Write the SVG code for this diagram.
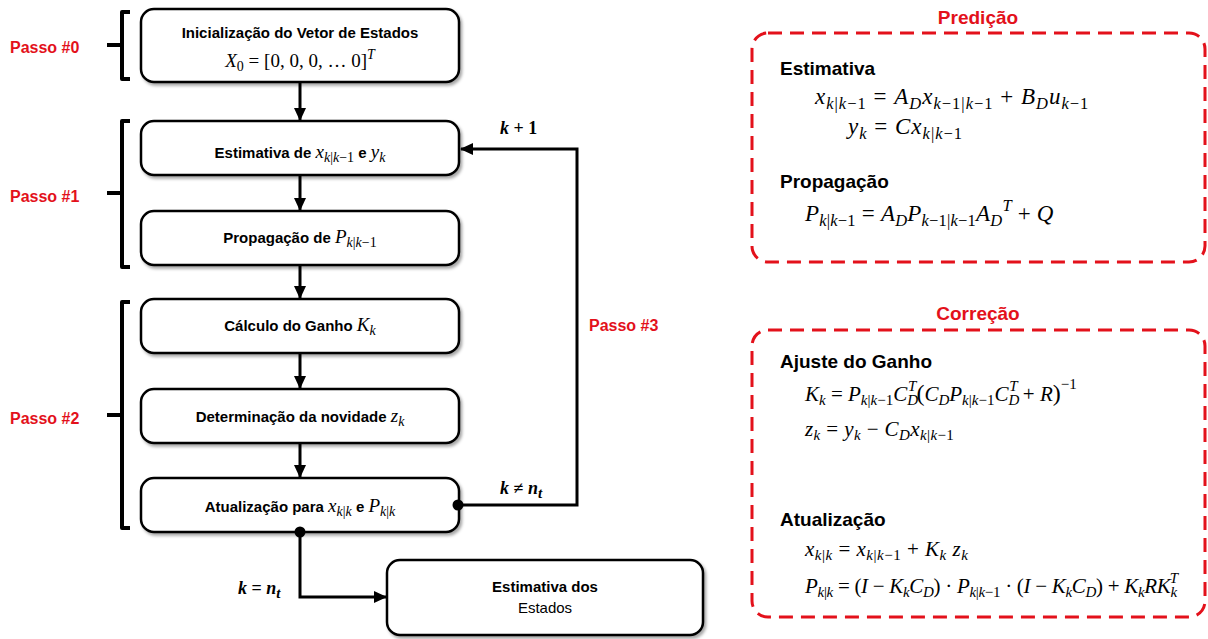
<svg xmlns="http://www.w3.org/2000/svg" width="1208" height="639" viewBox="0 0 1208 639">
  <style>
    .box { fill: #ffffff; stroke: #000000; stroke-width: 2.5; }
    .lbl { font-family: "Liberation Sans", Arial, sans-serif; font-weight: bold; font-size: 15px; fill: #000; }
    .reg { font-weight: normal; }
    .m { font-family: "Liberation Serif", "Times New Roman", serif; font-weight: normal; font-size: 19px; fill: #000; }
    .ms { font-size: 14px; }
    .em { font-family: "Liberation Serif", "Times New Roman", serif; font-size: 21px; fill: #000; }
    .es { font-size: 15px; }
    .pm { font-size: 23px; letter-spacing: 1px; }
    .pm.tight { letter-spacing: 0.2px; }
    .ps { font-size: 16.5px; }
    .i { font-style: italic; }
    .step { font-family: "Liberation Sans", Arial, sans-serif; font-weight: bold; font-size: 16px; fill: #e3111b; }
    .ttl { font-family: "Liberation Sans", Arial, sans-serif; font-weight: bold; font-size: 19px; fill: #e3111b; }
    .hd { font-family: "Liberation Sans", Arial, sans-serif; font-weight: bold; font-size: 19px; fill: #000; }
    .cond { font-family: "Liberation Serif", "Times New Roman", serif; font-weight: bold; font-size: 18px; fill: #000; }
    .wire { fill: none; stroke: #000; stroke-width: 3; }
    .brace { fill: none; stroke: #000; stroke-width: 4; stroke-linejoin: round; }
    .panel { fill: none; stroke: #e3111b; stroke-width: 3; stroke-dasharray: 14 8; }
  </style>
  <defs>
    <marker id="arrow" markerUnits="userSpaceOnUse" markerWidth="14" markerHeight="14" refX="12" refY="7" orient="auto">
      <path d="M0,1 L13,7 L0,13 Z" fill="#000"/>
    </marker>
    <filter id="shadow" x="-5%" y="-10%" width="115%" height="130%">
      <feDropShadow dx="2" dy="2.5" stdDeviation="1.5" flood-color="#000" flood-opacity="0.35"/>
    </filter>
  </defs>

  <!-- step labels and braces -->
  <g id="steps">
    <text class="step" x="10" y="53">Passo #0</text>
    <text class="step" x="10" y="202">Passo #1</text>
    <text class="step" x="10" y="424">Passo #2</text>
    <text class="step" x="589" y="331">Passo #3</text>
    <path class="brace" d="M130,12 H122 V45 H107 M122,45 V79 H130"/>
    <path class="brace" d="M130,121 H122 V193 H107 M122,193 V267 H130"/>
    <path class="brace" d="M130,302 H122 V415 H107 M122,415 V528 H130"/>
  </g>

  <!-- flow nodes -->
  <g id="node-init">
    <rect class="box" x="141" y="9" width="318" height="73" rx="13" filter="url(#shadow)"/>
    <text class="lbl" x="300" y="38" text-anchor="middle">Inicialização do Vetor de Estados</text>
    <text class="m" x="300" y="67" text-anchor="middle"><tspan class="i">X</tspan><tspan class="ms" dy="4">0</tspan><tspan dy="-4"> = [0, 0, 0, … 0]</tspan><tspan class="ms i" dy="-8">T</tspan></text>
  </g>
  <g id="node-estimate">
    <rect class="box" x="141" y="121" width="318" height="54" rx="13" filter="url(#shadow)"/>
    <text class="lbl" x="300" y="158" text-anchor="middle">Estimativa de <tspan class="m i">x</tspan><tspan class="m ms" dy="4"><tspan class="i">k</tspan>|<tspan class="i">k</tspan>−1</tspan><tspan dy="-4"> e </tspan><tspan class="m i">y</tspan><tspan class="m ms i" dy="4">k</tspan></text>
  </g>
  <g id="node-propagate">
    <rect class="box" x="141" y="211" width="318" height="54" rx="13" filter="url(#shadow)"/>
    <text class="lbl" x="300" y="243" text-anchor="middle">Propagação de <tspan class="m i">P</tspan><tspan class="m ms" dy="4"><tspan class="i">k</tspan>|<tspan class="i">k</tspan>−1</tspan></text>
  </g>
  <g id="node-gain">
    <rect class="box" x="141" y="299" width="318" height="54" rx="13" filter="url(#shadow)"/>
    <text class="lbl" x="300" y="331" text-anchor="middle">Cálculo do Ganho <tspan class="m i">K</tspan><tspan class="m ms i" dy="4">k</tspan></text>
  </g>
  <g id="node-innovation">
    <rect class="box" x="141" y="389" width="318" height="54" rx="13" filter="url(#shadow)"/>
    <text class="lbl" x="300" y="422" text-anchor="middle">Determinação da novidade <tspan class="m i">z</tspan><tspan class="m ms i" dy="4">k</tspan></text>
  </g>
  <g id="node-update">
    <rect class="box" x="141" y="478" width="318" height="54" rx="13" filter="url(#shadow)"/>
    <text class="lbl" x="300" y="512" text-anchor="middle">Atualização para <tspan class="m i">x</tspan><tspan class="m ms" dy="4"><tspan class="i">k</tspan>|<tspan class="i">k</tspan></tspan><tspan dy="-4"> e  </tspan><tspan class="m i">P</tspan><tspan class="m ms" dy="4"><tspan class="i">k</tspan>|<tspan class="i">k</tspan></tspan></text>
  </g>
  <g id="node-output">
    <rect class="box" x="387" y="560" width="316" height="75" rx="13" filter="url(#shadow)"/>
    <text class="lbl" x="545" y="592" text-anchor="middle">Estimativa dos</text>
    <text class="lbl reg" x="545" y="613" text-anchor="middle">Estados</text>
  </g>

  <!-- connectors -->
  <g id="connectors">
    <line class="wire" x1="300" y1="82" x2="300" y2="120" marker-end="url(#arrow)"/>
    <line class="wire" x1="300" y1="175" x2="300" y2="210" marker-end="url(#arrow)"/>
    <line class="wire" x1="300" y1="265" x2="300" y2="298" marker-end="url(#arrow)"/>
    <line class="wire" x1="300" y1="353" x2="300" y2="388" marker-end="url(#arrow)"/>
    <line class="wire" x1="300" y1="443" x2="300" y2="477" marker-end="url(#arrow)"/>
    <path class="wire" d="M458,505 H577 V149 H461" marker-end="url(#arrow)"/>
    <path class="wire" d="M300,532 V597 H386" marker-end="url(#arrow)"/>
    <circle cx="458" cy="505" r="5.5" fill="#000"/>
    <circle cx="300" cy="532" r="5.5" fill="#000"/>
    <text class="cond" x="500" y="134"><tspan class="i">k</tspan> + 1</text>
    <text class="cond" x="500" y="494"><tspan class="i">k</tspan> ≠ <tspan class="i">n</tspan><tspan class="es i" dy="4">t</tspan></text>
    <text class="cond" x="238" y="594"><tspan class="i">k</tspan> = <tspan class="i">n</tspan><tspan class="es i" dy="4">t</tspan></text>
  </g>

  <!-- prediction panel -->
  <g id="panel-prediction">
    <text class="ttl" x="978" y="24" text-anchor="middle">Predição</text>
    <rect class="panel" x="752" y="33" width="453" height="229" rx="16"/>
    <text class="hd" x="780" y="75">Estimativa</text>
    <text class="em pm" x="815" y="104"><tspan class="i">x</tspan><tspan class="ps" dy="5"><tspan class="i">k</tspan>|<tspan class="i">k</tspan>−1</tspan><tspan dy="-5"> = </tspan><tspan class="i">A</tspan><tspan class="ps i" dy="5">D</tspan><tspan class="i" dy="-5">x</tspan><tspan class="ps" dy="5"><tspan class="i">k</tspan>−1|<tspan class="i">k</tspan>−1</tspan><tspan dy="-5"> + </tspan><tspan class="i">B</tspan><tspan class="ps i" dy="5">D</tspan><tspan class="i" dy="-5">u</tspan><tspan class="ps" dy="5"><tspan class="i">k</tspan>−1</tspan></text>
    <text class="em pm" x="848" y="134"><tspan class="i">y</tspan><tspan class="ps i" dy="5">k</tspan><tspan dy="-5"> = </tspan><tspan class="i">Cx</tspan><tspan class="ps" dy="5"><tspan class="i">k</tspan>|<tspan class="i">k</tspan>−1</tspan></text>
    <text class="hd" x="780" y="188">Propagação</text>
    <text class="em pm tight" x="805" y="221"><tspan class="i">P</tspan><tspan class="ps" dy="5"><tspan class="i">k</tspan>|<tspan class="i">k</tspan>−1</tspan><tspan dy="-5"> = </tspan><tspan class="i">A</tspan><tspan class="ps i" dy="5">D</tspan><tspan class="i" dy="-5">P</tspan><tspan class="ps" dy="5"><tspan class="i">k</tspan>−1|<tspan class="i">k</tspan>−1</tspan><tspan class="i" dy="-5">A</tspan><tspan class="ps i" dy="5">D</tspan><tspan class="ps i" dy="-15">T</tspan><tspan dy="10"> + </tspan><tspan class="i">Q</tspan></text>
  </g>

  <!-- correction panel -->
  <g id="panel-correction">
    <text class="ttl" x="978" y="320" text-anchor="middle">Correção</text>
    <rect class="panel" x="752" y="330" width="453" height="287" rx="16"/>
    <text class="hd" x="780" y="368">Ajuste do Ganho</text>
    <text class="em" x="805" y="401"><tspan class="i">K</tspan><tspan class="es i" dy="4">k</tspan><tspan dy="-4"> = </tspan><tspan class="i">P</tspan><tspan class="es" dy="4"><tspan class="i">k</tspan>|<tspan class="i">k</tspan>−1</tspan><tspan class="i" dy="-4">C</tspan><tspan class="es i" dy="4">D</tspan><tspan class="es i" dx="-10" dy="-14">T</tspan><tspan dy="10" font-size="24">(</tspan><tspan class="i">C</tspan><tspan class="es i" dy="4">D</tspan><tspan class="i" dy="-4">P</tspan><tspan class="es" dy="4"><tspan class="i">k</tspan>|<tspan class="i">k</tspan>−1</tspan><tspan class="i" dy="-4">C</tspan><tspan class="es i" dy="4">D</tspan><tspan class="es i" dx="-10" dy="-14">T</tspan><tspan dy="10"> + </tspan><tspan class="i">R</tspan><tspan font-size="24">)</tspan><tspan class="es" dy="-12">−1</tspan></text>
    <text class="em" x="805" y="436" letter-spacing="0.4"><tspan class="i">z</tspan><tspan class="es i" dy="4">k</tspan><tspan dy="-4"> = </tspan><tspan class="i">y</tspan><tspan class="es i" dy="4">k</tspan><tspan dy="-4"> − </tspan><tspan class="i">C</tspan><tspan class="es i" dy="4">D</tspan><tspan class="i" dy="-4">x</tspan><tspan class="es" dy="4"><tspan class="i">k</tspan>|<tspan class="i">k</tspan>−1</tspan></text>
    <text class="hd" x="780" y="526">Atualização</text>
    <text class="em" x="805" y="556" letter-spacing="0.5"><tspan class="i">x</tspan><tspan class="es" dy="4"><tspan class="i">k</tspan>|<tspan class="i">k</tspan></tspan><tspan dy="-4"> = </tspan><tspan class="i">x</tspan><tspan class="es" dy="4"><tspan class="i">k</tspan>|<tspan class="i">k</tspan>−1</tspan><tspan dy="-4"> + </tspan><tspan class="i">K</tspan><tspan class="es i" dy="4">k</tspan><tspan class="i" dy="-4"> z</tspan><tspan class="es i" dy="4">k</tspan></text>
    <text class="em" x="805" y="593" letter-spacing="-0.3"><tspan class="i">P</tspan><tspan class="es" dy="4"><tspan class="i">k</tspan>|<tspan class="i">k</tspan></tspan><tspan dy="-4"> = (</tspan><tspan class="i">I</tspan> − <tspan class="i">K</tspan><tspan class="es i" dy="4">k</tspan><tspan class="i" dy="-4">C</tspan><tspan class="es i" dy="4">D</tspan><tspan dy="-4">) · </tspan><tspan class="i">P</tspan><tspan class="es" dy="4"><tspan class="i">k</tspan>|<tspan class="i">k</tspan>−1</tspan><tspan dy="-4"> · (</tspan><tspan class="i">I</tspan> − <tspan class="i">K</tspan><tspan class="es i" dy="4">k</tspan><tspan class="i" dy="-4">C</tspan><tspan class="es i" dy="4">D</tspan><tspan dy="-4">) + </tspan><tspan class="i">K</tspan><tspan class="es i" dy="4">k</tspan><tspan class="i" dy="-4">RK</tspan><tspan class="es i" dy="4">k</tspan><tspan class="es i" dx="-7" dy="-14">T</tspan></text>
  </g>
</svg>
